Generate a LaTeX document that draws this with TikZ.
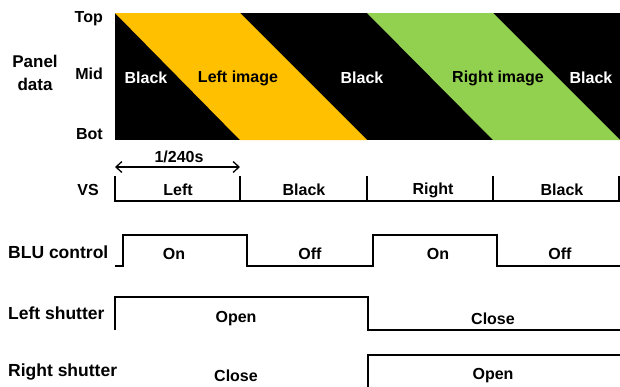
\documentclass[tikz,border=0pt]{standalone}
\usepackage{fontspec}
\setmainfont{Liberation Sans}
\usetikzlibrary{arrows.meta}
\definecolor{leftyellow}{HTML}{FFC000}
\definecolor{rightgreen}{HTML}{92D050}
\begin{document}
\begin{tikzpicture}[x=1pt,y=-1pt,
  lbl/.style={font=\bfseries\fontsize{16}{18}\selectfont, inner sep=0pt},
  rowlbl/.style={font=\bfseries\fontsize{17.5}{20}\selectfont, inner sep=0pt, anchor=west},
  sig/.style={line width=2pt, line join=miter},
  whitetxt/.style={lbl, text=white}]
\useasboundingbox (0,0) rectangle (620,386);
% panel data
\fill[black] (115,13) rectangle (620,140);
\fill[leftyellow] (115,13) -- (240,13) -- (367,140) -- (240,140) -- cycle;
\fill[rightgreen] (367,13) -- (493,13) -- (620,140) -- (493,140) -- cycle;
\node[whitetxt] (b1) at (146,78) {Black};
\node[lbl] (limg) at (238,78) {Left image};
\node[whitetxt] (b2) at (362,78) {Black};
\node[lbl] (rimg) at (498,78) {Right image};
\node[whitetxt] (b3) at (591,78) {Black};
\node[lbl, anchor=east] (top) at (103,19) {Top};
\node[lbl, anchor=east] (mid) at (103,74) {Mid};
\node[lbl, anchor=east] (bot) at (103,134) {Bot};
\node[lbl, font=\bfseries\fontsize{17}{23}\selectfont, align=center] (panel) at (35,73) {Panel\\data};
% 1/240s
\coordinate (a1) at (115,167);
\coordinate (a2) at (240,167);
\draw[line width=1.3pt, {Straight Barb[length=6pt,width=11pt]}-{Straight Barb[length=6pt,width=11pt]}] (a1) -- (a2);
\node[lbl] (per) at (179,157) {1/240s};
% VS
\node[lbl, anchor=east] (vs) at (99,190) {VS};
\draw[sig] (115,176) -- (115,201) -- (620,201);
\foreach \x in {240,367,493} \draw[sig] (\x,176) -- (\x,201);
\draw[sig] (619,176) -- (619,201);
\node[lbl] (vs1) at (178,190) {Left};
\node[lbl] (vs2) at (304,190) {Black};
\node[lbl] (vs3) at (433,190) {Right};
\node[lbl] (vs4) at (562,190) {Black};
% BLU
\node[rowlbl] (blu) at (8,252) {BLU control};
\draw[sig] (115,266) -- (123,266) -- (123,235) -- (247,235) -- (247,266) -- (373,266) -- (373,235) -- (497,235) -- (497,266) -- (620,266);
\node[lbl] (on1) at (174,254) {On};
\node[lbl] (off1) at (310,254) {Off};
\node[lbl] (on2) at (438,254) {On};
\node[lbl] (off2) at (560,254) {Off};
% Left shutter
\node[rowlbl] (ls) at (8,313) {Left shutter};
\draw[sig] (115,330) -- (115,297) -- (368,297) -- (368,330) -- (620,330);
\node[lbl] (lo) at (236,319) {Open};
\node[lbl] (lc) at (493,319) {Close};
% Right shutter
\node[rowlbl] (rs) at (8,372) {Right shutter};
\draw[sig] (368,390) -- (368,355) -- (620,355);
\node[lbl] (rc) at (236,376) {Close};
\node[lbl] (ro) at (493,376) {Open};
\end{tikzpicture}
\end{document}
